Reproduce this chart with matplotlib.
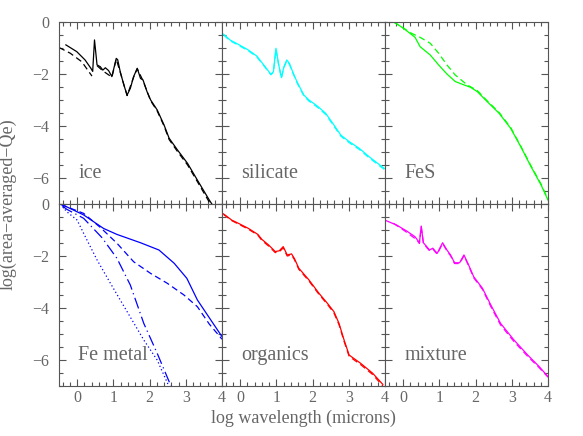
import numpy as np
import matplotlib.pyplot as plt
from matplotlib.ticker import MultipleLocator

# ---- data (log wavelength, log Qe) ----
ice_x = [-0.31, -0.01, 0.22, 0.38, 0.43, 0.48, 0.55, 0.64, 0.71, 0.78, 0.87, 0.96, 1.08, 1.12,
         1.19, 1.29, 1.38, 1.47, 1.56, 1.66, 1.75, 1.82, 1.93, 2.03, 2.21, 2.40, 2.54, 2.77,
         3.05, 3.32, 3.65, 3.72]
ice_y = [-0.88, -1.14, -1.46, -1.78, -1.90, -0.69, -1.65, -1.72, -1.85, -1.76, -1.87, -2.10,
         -1.40, -1.45, -1.91, -2.42, -2.81, -2.55, -2.10, -1.78, -2.17, -2.23, -2.68, -3.00,
         -3.38, -3.96, -4.47, -4.92, -5.44, -6.08, -6.85, -7.00]
ice_dx = [-0.50, -0.19, 0.13, 0.41]
ice_dy = [-0.98, -1.20, -1.53, -2.08]
ice_dx2 = [0.55, 0.71, 0.96, 1.08, 1.19, 1.38, 1.56, 1.66, 1.82, 2.03, 2.21, 2.40, 2.54,
           2.77, 3.05, 3.32, 3.65, 3.70]
ice_dy2 = [-1.68, -1.88, -2.12, -1.43, -1.93, -2.83, -2.12, -1.80, -2.26, -3.03, -3.42,
           -4.00, -4.52, -4.98, -5.50, -6.14, -6.93, -7.00]

sil_x = [-0.46, -0.28, -0.05, 0.23, 0.46, 0.65, 0.85, 0.92, 0.99, 1.06, 1.14, 1.21, 1.29,
         1.36, 1.45, 1.57, 1.76, 1.90, 2.13, 2.36, 2.59, 2.78, 3.01, 3.29, 3.56, 3.98]
sil_y = [-0.47, -0.69, -0.86, -1.08, -1.31, -1.65, -2.01, -1.91, -1.01, -1.60, -2.14, -1.72,
         -1.46, -1.59, -1.91, -2.30, -2.81, -3.00, -3.23, -3.51, -3.96, -4.35, -4.60, -4.86,
         -5.18, -5.63]
sil_dy = [-0.49, -0.72, -0.89, -1.11, -1.34, -1.67, -2.03, -1.93, -1.05, -1.62, -2.16, -1.75,
          -1.49, -1.62, -1.94, -2.33, -2.84, -3.04, -3.27, -3.55, -4.00, -4.39, -4.64, -4.90,
          -5.22, -5.67]

fes_x = [-0.27, 0.01, 0.33, 0.47, 0.75, 0.98, 1.21, 1.44, 1.68, 1.86, 2.05, 2.32, 2.65,
         2.97, 3.25, 3.53, 3.81, 4.00]
fes_y = [0.01, -0.24, -0.59, -0.95, -1.27, -1.65, -2.00, -2.29, -2.42, -2.51, -2.68, -3.06,
         -3.51, -4.09, -4.80, -5.56, -6.27, -6.85]
fes_dx = [-0.27, 0.24, 0.47, 0.75, 0.98, 1.21, 1.44, 1.77, 2.05, 2.32, 2.65, 2.97, 3.25,
          3.53, 3.81, 4.00]
fes_dy = [0.01, -0.44, -0.59, -0.82, -1.20, -1.65, -2.04, -2.42, -2.64, -3.03, -3.48, -4.06,
          -4.78, -5.53, -6.24, -6.82]

fe_x = [-0.45, 0.18, 0.73, 1.10, 1.75, 2.26, 2.68, 3.03, 3.32, 3.69, 4.00]
fe_y = [0.00, -0.42, -0.94, -1.17, -1.49, -1.77, -2.28, -2.86, -3.69, -4.46, -5.10]
fe_dx = [-0.45, 0.18, 0.64, 1.10, 1.56, 2.03, 2.49, 2.95, 3.32, 3.65, 4.00]
fe_dy = [-0.02, -0.36, -0.90, -1.51, -2.22, -2.67, -3.05, -3.50, -3.95, -4.62, -5.20]
fe_ddx = [-0.40, -0.29, 0.18, 0.69, 1.10, 1.47, 1.84, 2.21, 2.60]
fe_ddy = [-0.08, -0.20, -0.55, -1.30, -2.09, -3.12, -4.59, -5.74, -7.03]
fe_ux = [-0.40, -0.29, 0.00, 0.27, 0.55, 0.92, 1.38, 1.84, 2.21, 2.54]
fe_uy = [-0.10, -0.29, -0.62, -1.38, -2.15, -3.05, -4.14, -5.23, -6.00, -7.03]

org_x = [-0.46, -0.23, -0.05, 0.23, 0.49, 0.60, 0.79, 0.97, 1.08, 1.19, 1.30, 1.42, 1.50,
         1.62, 1.90, 2.18, 2.41, 2.59, 2.73, 2.87, 3.01, 3.33, 3.66, 3.94]
org_y = [-0.38, -0.62, -0.74, -0.94, -1.17, -1.36, -1.58, -1.83, -1.80, -1.64, -1.96, -1.92,
         -2.10, -2.47, -2.92, -3.44, -3.82, -4.14, -4.59, -5.23, -5.81, -6.13, -6.51, -6.94]
org_dy = [-0.40, -0.64, -0.77, -0.97, -1.20, -1.40, -1.62, -1.87, -1.84, -1.69, -2.00, -1.96,
          -2.14, -2.51, -2.96, -3.48, -3.86, -4.19, -4.64, -5.28, -5.86, -6.18, -6.56, -7.00]

mix_x = [-0.47, -0.18, 0.10, 0.33, 0.45, 0.50, 0.56, 0.73, 0.82, 0.94, 1.09, 1.21, 1.31,
         1.42, 1.56, 1.68, 1.81, 1.95, 2.19, 2.42, 2.69, 3.06, 3.44, 3.76, 4.00]
mix_y = [-0.64, -0.81, -1.04, -1.26, -1.49, -0.85, -1.49, -1.77, -1.70, -1.90, -1.49, -1.77,
         -1.96, -2.26, -2.26, -1.96, -2.35, -2.80, -3.24, -3.88, -4.59, -5.23, -5.81, -6.26,
         -6.64]
mix_dx = [-0.27, 0.01, 0.38, 0.45, 0.50, 0.56, 0.73, 0.82, 0.94, 1.09, 1.21, 1.31, 1.42,
          1.56, 1.68, 1.81, 1.95, 2.19, 2.42, 2.69, 3.06, 3.44, 3.76, 4.00]
mix_dy = [-0.74, -1.00, -1.38, -1.52, -0.88, -1.52, -1.80, -1.73, -1.93, -1.52, -1.80, -1.99,
          -2.29, -2.29, -1.99, -2.38, -2.84, -3.28, -3.94, -4.65, -5.29, -5.86, -6.30, -6.66]

gray = '#555555'
tgray = '#666666'
plt.rcParams['font.family'] = 'Liberation Serif'

fig = plt.figure(figsize=(5.83, 4.36), dpi=100)
W, H = 583.0, 436.0
left_px = [59, 222, 385]
top_px = [22, 204]
pw, ph = 163, 182
axes = {}
for r in range(2):
    for c in range(3):
        ax = fig.add_axes([left_px[c] / W, 1 - (top_px[r] + ph) / H, pw / W, ph / H])
        ax.set_xlim(-0.5, 4)
        ax.set_ylim(-7, 0)
        ax.xaxis.set_major_locator(MultipleLocator(1))
        ax.xaxis.set_minor_locator(MultipleLocator(0.2))
        ax.yaxis.set_major_locator(MultipleLocator(2))
        ax.yaxis.set_minor_locator(MultipleLocator(0.5))
        ax.tick_params(which='both', direction='in', top=True, right=True, color=gray,
                       labelcolor=tgray, labelsize=11.5, width=0.8)
        ax.tick_params(which='major', length=5)
        ax.tick_params(which='minor', length=3)
        ax.tick_params(axis='x', pad=3)
        ax.tick_params(axis='y', pad=7)
        for s in ax.spines.values():
            s.set_color(gray)
            s.set_linewidth(0.8)
        if r == 0:
            ax.set_xticklabels([])
        if c > 0:
            ax.set_yticklabels([])
        axes[(r, c)] = ax

lw = 0.9
ax = axes[(0, 0)]
ax.plot(ice_x, ice_y, color='black', lw=lw)
ax.plot(ice_dx, ice_dy, color='black', lw=lw, ls=(0, (5, 3)))
ax.plot(ice_dx2, ice_dy2, color='black', lw=lw, ls=(0, (5, 3)))

ax = axes[(0, 1)]
ax.plot(sil_x, sil_y, color='cyan', lw=lw)
ax.plot(sil_x, sil_dy, color='cyan', lw=lw, ls=(0, (5, 3)))

ax = axes[(0, 2)]
ax.plot(fes_x, fes_y, color='lime', lw=lw)
ax.plot(fes_dx, fes_dy, color='lime', lw=lw, ls=(0, (5, 3)))

ax = axes[(1, 0)]
ax.plot(fe_x, fe_y, color='blue', lw=lw)
ax.plot(fe_dx, fe_dy, color='blue', lw=lw, ls=(0, (5, 3)))
ax.plot(fe_ddx, fe_ddy, color='blue', lw=lw, ls=(0, (9, 3, 1, 3)))
ax.plot(fe_ux, fe_uy, color='blue', lw=lw, ls=(0, (1, 2)))

ax = axes[(1, 1)]
ax.plot(org_x, org_y, color='red', lw=lw)
ax.plot(org_x, org_dy, color='red', lw=lw, ls=(0, (5, 3)))

ax = axes[(1, 2)]
ax.plot(mix_x, mix_y, color='magenta', lw=lw)
ax.plot(mix_dx, mix_dy, color='magenta', lw=lw, ls=(0, (5, 3)))

names = {(0, 0): 'ice', (0, 1): 'silicate', (0, 2): 'FeS',
         (1, 0): 'Fe metal', (1, 1): 'organics', (1, 2): 'mixture'}
for k, name in names.items():
    axes[k].text(0.117, 0.165, name, transform=axes[k].transAxes, ha='left', va='center',
                 fontsize=14.5, color=tgray)

fig.text(303 / W, 1 - 418 / H, 'log wavelength (microns)', ha='center', va='center',
         fontsize=13, color=tgray)
fig.text(8 / W, 1 - 204 / H, 'log(area\u2212averaged\u2212Qe)', ha='center', va='center',
         rotation=90, fontsize=13, color=tgray)

fig.savefig('out.png', dpi=100)
